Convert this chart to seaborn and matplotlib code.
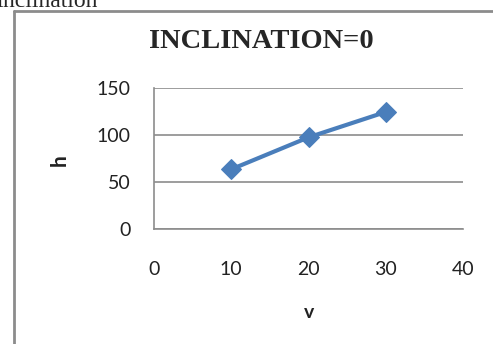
import matplotlib
matplotlib.use("Agg")
import matplotlib.pyplot as plt
from matplotlib.lines import Line2D
import seaborn as sns
import pandas as pd

# velocity v and height h
v = [10, 20, 30]
h = [63.5, 97.5, 124.5]
x_ticks = [0, 10, 20, 30, 40]
y_ticks = [0, 50, 100, 150]

sns.set_style("white")
plt.rcParams["font.family"] = ["Lato", "DejaVu Sans"]

W, H = 493, 344
fig = plt.figure(figsize=(W / 100, H / 100), dpi=100)

def fx(px):
    return px / W

def fy(py):
    return 1 - py / H

ax = fig.add_axes([fx(154), fy(229), fx(463) - fx(154), fy(88) - fy(229)])

df = pd.DataFrame({"v": v, "h": h})
sns.lineplot(data=df, x="v", y="h", ax=ax, color="#4A7EBB", linewidth=3,
             marker="D", markersize=10, markeredgecolor="#4A7EBB")

grid_c = "#8C8C8C"
ax.set_xlim(0, 40)
ax.set_ylim(0, 150)
ax.set_xticks(x_ticks)
ax.set_yticks(y_ticks)
ax.yaxis.grid(True, color=grid_c, linewidth=1.2)
ax.xaxis.grid(False)
for side in ["top", "right"]:
    ax.spines[side].set_visible(False)
for side in ["left", "bottom"]:
    ax.spines[side].set_color(grid_c)
    ax.spines[side].set_linewidth(1.2)
ax.tick_params(axis="both", length=0, labelsize=14, colors="#222222")
ax.tick_params(axis="y", pad=17)
ax.tick_params(axis="x", pad=23)
ax.set_xlabel("")
ax.set_ylabel("")

# axis titles
fig.text(fx(309), fy(312), "v", ha="center", va="center", fontsize=14,
         fontweight="bold", color="#222222")
fig.text(fx(60), fy(160), "h", ha="center", va="center", fontsize=15,
         fontweight="bold", rotation=90, color="#222222")

# chart title
fig.text(fx(261), fy(48), "INCLINATION=0", ha="center", va="baseline",
         fontsize=20.5, fontweight="bold", family="Liberation Serif")

# running caption above the chart frame
fig.text(fx(97), fy(7), "Inclination", ha="right", va="baseline",
         fontsize=17, family="Liberation Serif")

# chart frame (left and top edges; the rest runs past the image)
frame_kw = dict(transform=fig.transFigure, color="#8C8C8C", linewidth=2)
fig.lines.append(Line2D([fx(14), fx(14)], [fy(11), 0], **frame_kw))
fig.lines.append(Line2D([fx(14), 1], [fy(11), fy(11)], **frame_kw))

fig.savefig("out.png", dpi=100)
